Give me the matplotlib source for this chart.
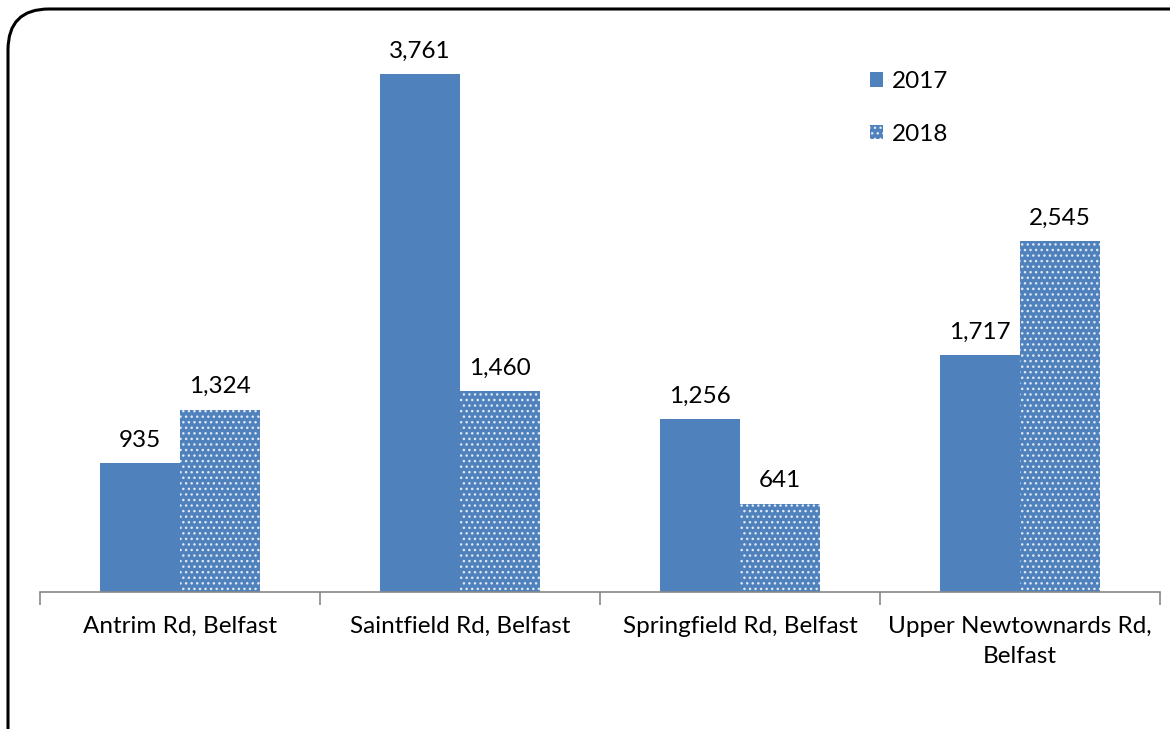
import matplotlib
matplotlib.use("Agg")
import matplotlib.pyplot as plt
from matplotlib.patches import FancyBboxPatch
import numpy as np

categories = ["Antrim Rd, Belfast", "Saintfield Rd, Belfast", "Springfield Rd, Belfast",
              "Upper Newtownards Rd,\nBelfast"]
series_names = ["2017", "2018"]
values_2017 = [935, 3761, 1256, 1717]
values_2018 = [1324, 1460, 641, 2545]

plt.rcParams['font.family'] = ['Lato', 'DejaVu Sans']
plt.rcParams['hatch.color'] = '#dfe8f4'
plt.rcParams['hatch.linewidth'] = 1.0

W, H = 1170, 729
fig = plt.figure(figsize=(W / 100, H / 100), dpi=100)
ax = fig.add_axes([40 / W, (H - 592) / H, 1120 / W, (592 - 41) / H])

blue = "#4F81BD"
fs = 17.5
x = np.arange(len(categories))
bw = 80 / 280
b1 = ax.bar(x - bw / 2, values_2017, bw, color=blue, label=series_names[0], linewidth=0)
b2 = ax.bar(x + bw / 2, values_2018, bw, color=blue, hatch='...', edgecolor='#dfe8f4',
            label=series_names[1], linewidth=0)

for bars, vals in ((b1, values_2017), (b2, values_2018)):
    for r, v in zip(bars, vals):
        ax.annotate(f"{v:,}", (r.get_x() + r.get_width() / 2, v), xytext=(0, 9),
                    textcoords="offset points", ha="center", va="bottom", fontsize=fs)

ax.set_xlim(-0.5, len(categories) - 0.5)
ax.set_ylim(0, 4000)
ax.set_yticks([])
for s in ("top", "right", "left"):
    ax.spines[s].set_visible(False)
ax.spines["bottom"].set_color("#888888")
ax.spines["bottom"].set_linewidth(1.2)

ax.set_xticks(np.arange(-0.5, len(categories), 1.0))
ax.set_xticklabels([])
ax.tick_params(axis='x', which='major', length=9, color="#888888", width=1.2, direction='out')
ax.set_xticks(x, minor=True)
ax.set_xticklabels(categories, minor=True, fontsize=fs, linespacing=1.55)
ax.tick_params(axis='x', which='minor', length=0, pad=17)

leg = ax.legend(loc="upper left", bbox_to_anchor=(808 / 1120, 0.985), frameon=False, fontsize=fs,
                handlelength=0.55, handleheight=0.55, handletextpad=0.35, labelspacing=1.3)

border = FancyBboxPatch((8 / W, (H - 1000) / H), 1300 / W, 991 / H,
                        boxstyle="round,pad=0,rounding_size=0.035", transform=fig.transFigure,
                        facecolor='none', edgecolor='black', linewidth=2.2, mutation_aspect=W / H)
fig.patches.append(border)

fig.savefig("out.png", dpi=100)
